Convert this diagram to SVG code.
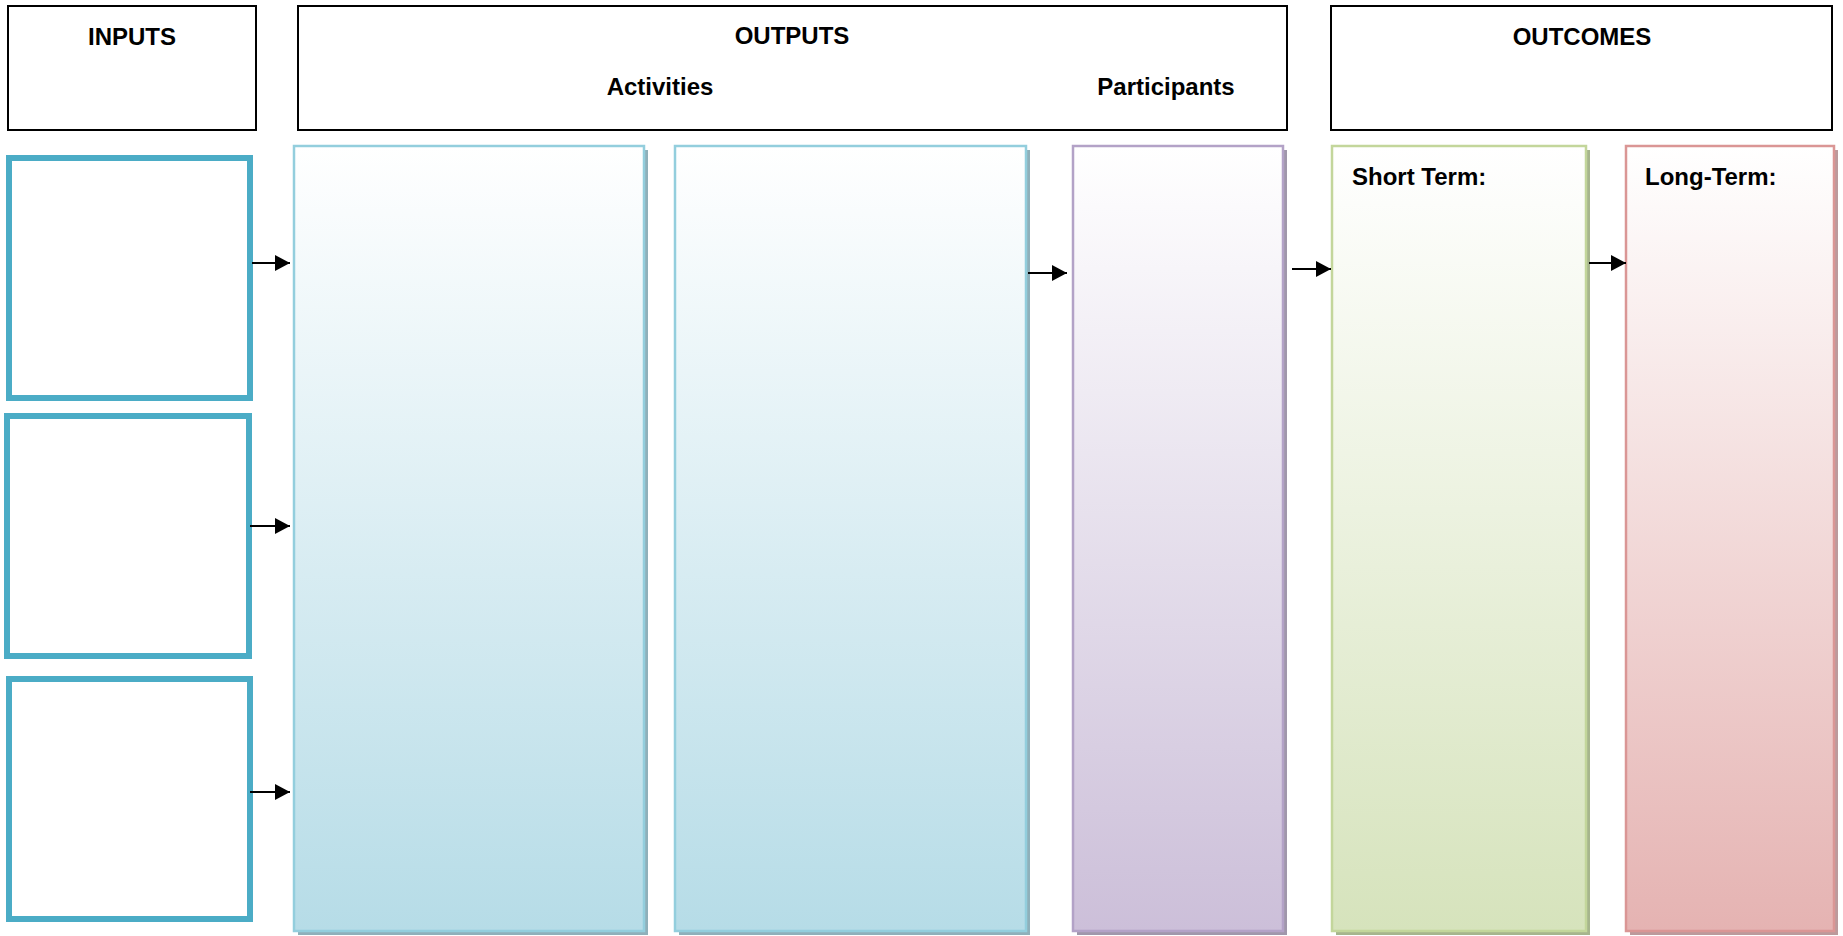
<svg xmlns="http://www.w3.org/2000/svg" width="1843" height="936" viewBox="0 0 1843 936">
<style>
.hdr{fill:#fff;stroke:#000;stroke-width:2}
.inp{fill:#fff;stroke:#4BACC6;stroke-width:6}
.lbl{font-family:"Liberation Sans",Arial,sans-serif;font-weight:bold;font-size:24px;fill:#000}
.mid{text-anchor:middle}
.conn{stroke:#000;stroke-width:2;fill:none;marker-end:url(#ah)}
</style>
<defs>
<marker id="ah" markerUnits="userSpaceOnUse" markerWidth="16" markerHeight="16" refX="15" refY="8" orient="auto">
<path d="M0,0 L15,8 L0,16 Z" fill="#000"/>
</marker>
<linearGradient id="gBlue" x1="0" y1="0" x2="0" y2="1"><stop offset="0" stop-color="#fff"/><stop offset="1" stop-color="#B6DCE7"/></linearGradient>
<linearGradient id="gPurple" x1="0" y1="0" x2="0" y2="1"><stop offset="0" stop-color="#fff"/><stop offset="1" stop-color="#CCBFD9"/></linearGradient>
<linearGradient id="gGreen" x1="0" y1="0" x2="0" y2="1"><stop offset="0" stop-color="#fff"/><stop offset="1" stop-color="#D6E3BC"/></linearGradient>
<linearGradient id="gRed" x1="0" y1="0" x2="0" y2="1"><stop offset="0" stop-color="#fff"/><stop offset="1" stop-color="#E5B3B2"/></linearGradient>
</defs>
<rect width="1843" height="936" fill="#fff"/>

<g id="hdr-inputs">
<rect class="hdr" x="8" y="6" width="248" height="124"/>
<text class="lbl mid" x="132" y="45">INPUTS</text>
</g>
<g id="hdr-outputs">
<rect class="hdr" x="298" y="6" width="989" height="124"/>
<text class="lbl mid" x="792" y="44">OUTPUTS</text>
<text class="lbl mid" x="660" y="95">Activities</text>
<text class="lbl mid" x="1166" y="95">Participants</text>
</g>
<g id="hdr-outcomes">
<rect class="hdr" x="1331" y="6" width="501" height="124"/>
<text class="lbl mid" x="1582" y="45">OUTCOMES</text>
</g>

<g id="input-1"><rect class="inp" x="9" y="158" width="241" height="240"/></g>
<g id="input-2"><rect class="inp" x="7" y="416" width="242" height="240"/></g>
<g id="input-3"><rect class="inp" x="9" y="679" width="241" height="240"/></g>

<g id="activities-1">
<rect x="298" y="150" width="350" height="785" fill="#8FB0BA"/>
<rect x="294" y="146" width="350" height="785" fill="url(#gBlue)" stroke="#93CEDD" stroke-width="2.5"/>
</g>
<g id="activities-2">
<rect x="679" y="150" width="351" height="785" fill="#8FB0BA"/>
<rect x="675" y="146" width="351" height="785" fill="url(#gBlue)" stroke="#93CEDD" stroke-width="2.5"/>
</g>
<g id="participants">
<rect x="1077" y="150" width="210" height="785" fill="#A097AB"/>
<rect x="1073" y="146" width="210" height="785" fill="url(#gPurple)" stroke="#B3A2C7" stroke-width="2.5"/>
</g>
<g id="short-term">
<rect x="1336" y="150" width="254" height="785" fill="#A6B58D"/>
<rect x="1332" y="146" width="254" height="785" fill="url(#gGreen)" stroke="#C3D69B" stroke-width="2.5"/>
<text class="lbl" x="1352" y="185">Short Term:</text>
</g>
<g id="long-term">
<rect x="1630" y="150" width="208" height="785" fill="#BC9A9C"/>
<rect x="1626" y="146" width="208" height="785" fill="url(#gRed)" stroke="#DA9695" stroke-width="2.5"/>
<text class="lbl" x="1645" y="185">Long-Term:</text>
</g>

<g id="connectors">
<line class="conn" x1="252" y1="263" x2="290" y2="263"/>
<line class="conn" x1="250" y1="526" x2="290" y2="526"/>
<line class="conn" x1="250" y1="792" x2="290" y2="792"/>
<line class="conn" x1="1028" y1="273" x2="1067" y2="273"/>
<line class="conn" x1="1292" y1="269" x2="1331" y2="269"/>
<line class="conn" x1="1589" y1="263" x2="1626" y2="263"/>
</g>
</svg>
